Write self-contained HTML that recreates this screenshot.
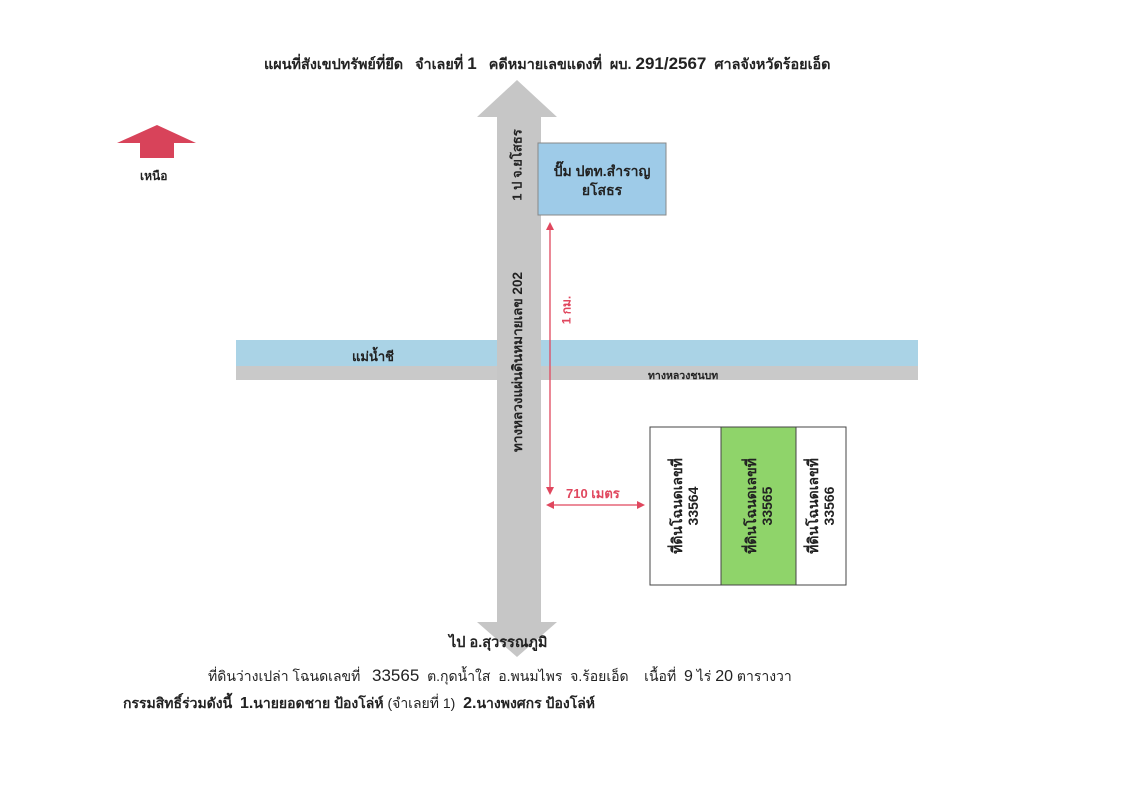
<!DOCTYPE html>
<html><head><meta charset="utf-8"><style>
body{margin:0;width:1146px;height:800px;background:#fff;position:relative;overflow:hidden;font-family:"Liberation Sans","Noto Sans CJK SC",sans-serif;color:#222}
.a{position:absolute;white-space:nowrap}
.b{font-weight:bold}
.r{transform:translate(-50%,-50%) rotate(-90deg);transform-origin:center}
</style></head><body>
<div class="a b" style="left:264px;top:53px;font-size:14.4px">แผนที่สังเขปทรัพย์ที่ยึด&nbsp;&nbsp; จำเลยที่ <span style="font-size:17px">1</span>&nbsp;&nbsp; คดีหมายเลขแดงที่&nbsp; ผบ. <span style="font-size:17px">291/2567</span>&nbsp; ศาลจังหวัดร้อยเอ็ด</div>

<svg class="a" style="left:0;top:0" width="1146" height="800">
<polygon points="117,143 157,125 196,143 174,143 174,158 140,158 140,143" fill="#d8435a"/>
<rect x="236" y="340" width="682" height="26" fill="#aad3e6"/>
<rect x="236" y="366" width="682" height="14" fill="#c9c9c9"/>
<polygon points="517,80 557,117 541,117 541,622 557,622 517,657 477,622 497,622 497,117 477,117" fill="#c6c6c6"/>
<rect x="538" y="143" width="128" height="72" fill="#9ecbe8" stroke="#888" stroke-width="1"/>
<line x1="550" y1="228" x2="550" y2="490" stroke="#e0475e" stroke-width="1.3"/>
<polygon points="550,222 546,230 554,230" fill="#e0475e"/>
<polygon points="550,495 546,487 554,487" fill="#e0475e"/>
<line x1="553" y1="505" x2="640" y2="505" stroke="#e0475e" stroke-width="1.3"/>
<polygon points="546,505 554,501 554,509" fill="#e0475e"/>
<polygon points="645,505 637,501 637,509" fill="#e0475e"/>
<rect x="650" y="427" width="196" height="158" fill="#fff" stroke="#444"/>
<rect x="721" y="427" width="75" height="158" fill="#8fd46a" stroke="#444"/>
</svg>

<div class="a b" style="left:140px;top:167px;font-size:12px">เหนือ</div>
<div class="a b" style="left:547px;top:162px;font-size:14px;width:110px;text-align:center;line-height:19px">ปั๊ม ปตท.สำราญ<br>ยโสธร</div>
<div class="a b" style="left:352px;top:346px;font-size:13px">แม่น้ำชี</div>
<div class="a b" style="left:648px;top:367px;font-size:10.5px">ทางหลวงชนบท</div>
<div class="a b r" style="left:517px;top:165px;font-size:13px">1 ป จ.ยโสธร</div>
<div class="a b r" style="left:517px;top:362px;font-size:13.5px">ทางหลวงแผ่นดินหมายเลข 202</div>
<div class="a b r" style="left:567px;top:310px;font-size:12px;color:#e0475e">1 กม.</div>
<div class="a b" style="left:566px;top:483px;font-size:13px;color:#e0475e">710 เมตร</div>
<div class="a b r" style="left:685px;top:506px;font-size:14px;text-align:center;line-height:16px">ที่ดินโฉนดเลขที่<br>33564</div>
<div class="a b r" style="left:759px;top:506px;font-size:14px;text-align:center;line-height:16px">ที่ดินโฉนดเลขที่<br>33565</div>
<div class="a b r" style="left:821px;top:506px;font-size:14px;text-align:center;line-height:16px">ที่ดินโฉนดเลขที่<br>33566</div>
<div class="a b" style="left:449px;top:631px;font-size:14.5px">ไป อ.สุวรรณภูมิ</div>
<div class="a" style="left:208px;top:666px;font-size:14px">ที่ดินว่างเปล่า โฉนดเลขที่&nbsp;&nbsp; <span style="font-size:17px">33565</span>&nbsp; ต.กุดน้ำใส&nbsp; อ.พนมไพร&nbsp; จ.ร้อยเอ็ด&nbsp;&nbsp;&nbsp; เนื้อที่&nbsp; <span style="font-size:16px">9</span> ไร่ <span style="font-size:16px">20</span> ตารางวา</div>
<div class="a b" style="left:123px;top:693px;font-size:14px">กรรมสิทธิ์ร่วมดังนี้&nbsp; <span style="font-size:16px">1.</span>นายยอดชาย ป้องโล่ห์ <span style="font-weight:normal">(จำเลยที่ 1)</span>&nbsp; <span style="font-size:16px">2.</span>นางพงศกร ป้องโล่ห์</div>
</body></html>
